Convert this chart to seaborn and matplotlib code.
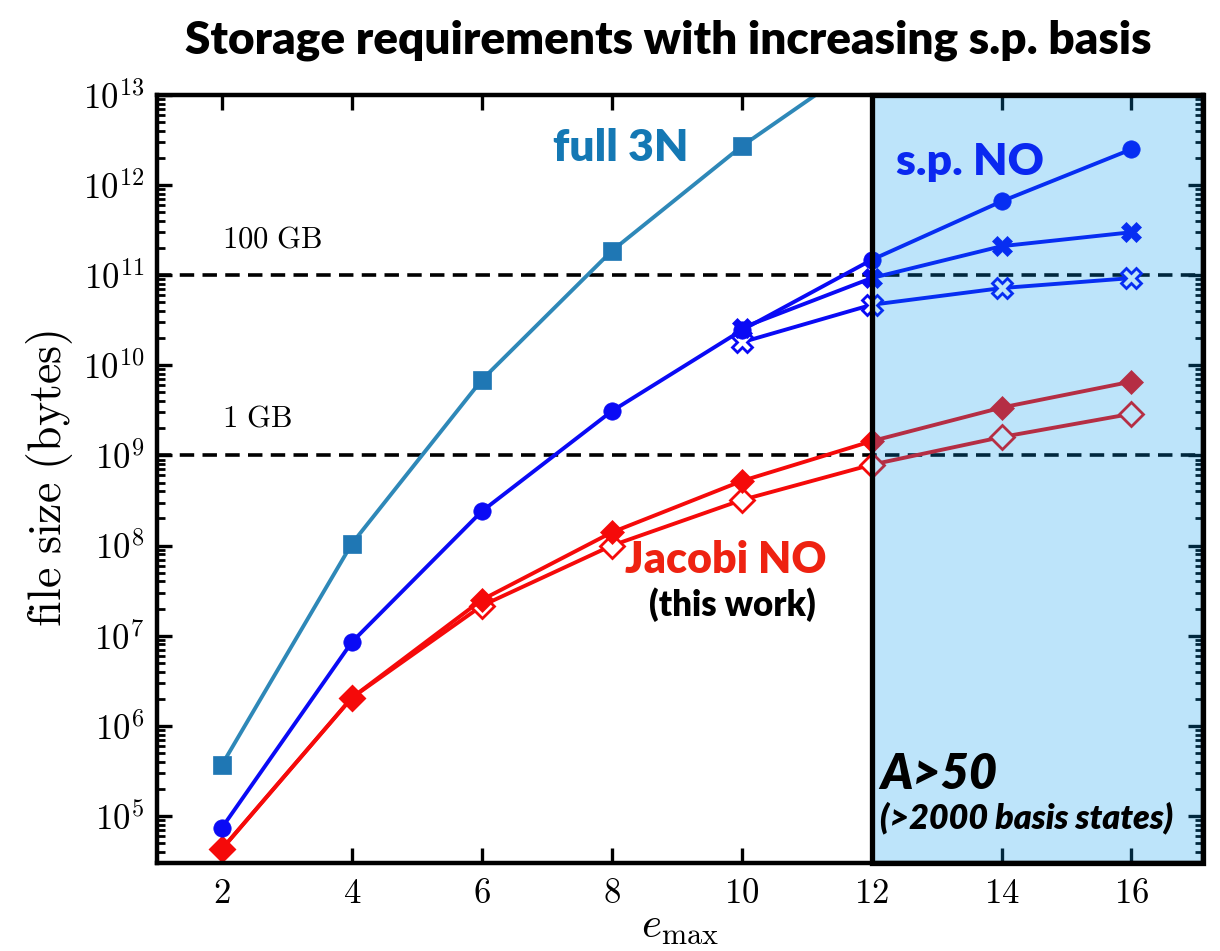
import numpy as np
import pandas as pd
import matplotlib
matplotlib.use("Agg")
import matplotlib.pyplot as plt
import matplotlib.ticker as mticker
from matplotlib.patches import Rectangle
import seaborn as sns

# e_max values and file sizes (bytes)
emax = [2, 4, 6, 8, 10, 12, 14, 16]
full_3n = [3.7e5, 1.05e8, 6.9e9, 1.86e11, 2.7e12, 2.7e13]
sp_no_circ = [7.4e4, 8.5e6, 2.4e8, 3.1e9, 2.45e10, 1.48e11, 6.6e11, 2.5e12]
sp_no_x_emax = [10, 12, 14, 16]
sp_no_x_full = [2.6e10, 9.3e10, 2.1e11, 3.0e11]
sp_no_x_open = [1.8e10, 4.7e10, 7.2e10, 9.3e10]
jac_full = [4.3e4, 2.05e6, 2.5e7, 1.4e8, 5.2e8, 1.44e9, 3.4e9, 6.6e9]
jac_open = [4.3e4, 2.05e6, 2.15e7, 1.0e8, 3.2e8, 7.9e8, 1.6e9, 2.9e9]

xticks = [2, 4, 6, 8, 10, 12, 14, 16]
thresholds = [1e11, 1e9]
threshold_labels = ["100 GB", "1 GB"]

sns.set_style("ticks")
plt.rcParams["mathtext.fontset"] = "cm"
plt.rcParams["font.family"] = ["DejaVu Sans"]
for k in ("axes.edgecolor", "xtick.color", "ytick.color", "axes.labelcolor", "text.color"):
    plt.rcParams[k] = "black"

fig = plt.figure(figsize=(12.2, 9.51), dpi=100)
ax = fig.add_axes([0.1287, 0.0925, 0.8573, 0.8076])

BLUE = "#0a0af5"
RED = "#f50a0a"
STEEL_LINE = "#2e88b8"
STEEL = "#1f77b4"
lw = 2.8


def draw(xs, ys, color, marker, ms, face=None, line_color=None, z=3):
    df = pd.DataFrame({"emax": xs[:len(ys)], "size": ys})
    sns.lineplot(data=df, x="emax", y="size", ax=ax, estimator=None,
                 color=line_color or color, linewidth=lw, marker=marker,
                 markersize=ms, markerfacecolor=face or color,
                 markeredgecolor=color, markeredgewidth=2.0 if face else 0.5,
                 zorder=z, clip_on=True)


ax.set_yscale("log")

draw(emax, full_3n, STEEL, "s", 12.5, line_color=STEEL_LINE)
draw(emax, sp_no_circ, BLUE, "o", 12.5, z=4)
draw(sp_no_x_emax, sp_no_x_open, BLUE, "X", 15, face="white", z=3)
draw(sp_no_x_emax, sp_no_x_full, BLUE, "X", 15, z=3.5)
draw(emax, jac_open, RED, "D", 12, face="white", z=3)
draw(emax, jac_full, RED, "D", 12, z=3.5)

# memory thresholds
label_pos = [2.5e11, 2.6e9]
for yv, lab, ly in zip(thresholds, threshold_labels, label_pos):
    ax.axhline(yv, color="black", lw=2.6, ls=(0, (4, 2.3)), zorder=2)
    ax.text(2.0, ly, r"$\mathrm{" + lab.replace(" ", r"\ ") + "}$", fontsize=22,
            ha="left", va="center")

ax.set_xlim(1.0, 17.1)
ax.set_ylim(3.0e4, 1e13)

# region with large bases
ax.add_patch(Rectangle((12, 3.0e4), 17.1 - 12, 1e13 - 3.0e4,
                       facecolor=(0.0, 0.6, 0.93), alpha=0.26, lw=0, zorder=6))
ax.add_patch(Rectangle((12, 3.0e4), 17.1 - 12, 1e13 - 3.0e4,
                       facecolor="none", edgecolor="black", lw=3.8,
                       zorder=7, clip_on=False))

ax.set_xticks(xticks)
ax.xaxis.set_major_formatter(mticker.FuncFormatter(lambda v, p: r"$\mathrm{%d}$" % v))
ax.yaxis.set_major_locator(mticker.LogLocator(base=10, numticks=20))
ax.yaxis.set_major_formatter(mticker.FuncFormatter(
    lambda v, p: r"$\mathrm{10}^{%d}$" % int(round(np.log10(v)))))
ax.yaxis.set_minor_locator(mticker.LogLocator(base=10, subs=np.arange(2, 10), numticks=20))
ax.yaxis.set_minor_formatter(mticker.NullFormatter())
ax.tick_params(axis="both", which="major", direction="in", length=11, width=2.4,
               labelsize=25, top=True, right=True, pad=9)
ax.tick_params(axis="y", which="minor", direction="in", length=6, width=2.0,
               left=True, right=True)
ax.tick_params(axis="x", which="minor", bottom=False, top=False)
for s in ax.spines.values():
    s.set_linewidth(3.2)
    s.set_color("black")
    s.set_zorder(8)

ax.set_xlabel(r"$e_{\mathrm{max}}$", fontsize=31, labelpad=-3)
ax.set_ylabel(r"$\mathrm{file\ size\ (bytes)}$", fontsize=33, labelpad=6)

txt = dict(family="Lato", weight="heavy")
ax.text(8.14, 2.6e12, "full 3N", color="#1478b4", fontsize=32, ha="center", va="center", **txt)
ax.text(13.52, 1.8e12, "s.p. NO", color="#0a28f0", fontsize=32, ha="center", va="center", zorder=9, **txt)
ax.text(9.75, 6.9e7, "Jacobi NO", color="#ee2211", fontsize=31, ha="center", va="center", **txt)
ax.text(9.85, 2.2e7, "(this work)", color="black", fontsize=25, ha="center", va="center", **txt)
ax.text(12.13, 2.9e5, "A>50", color="black", fontsize=35, style="italic",
        ha="left", va="center", zorder=9, **txt)
ax.text(12.13, 9.5e4, "(>2000 basis states)", color="black", fontsize=24.5, style="italic",
        ha="left", va="center", zorder=9, **txt)

fig.suptitle("Storage requirements with increasing s.p. basis", x=0.548, y=0.98,
             fontsize=33, family="Lato", weight="heavy")

fig.savefig("out.png", dpi=100)
